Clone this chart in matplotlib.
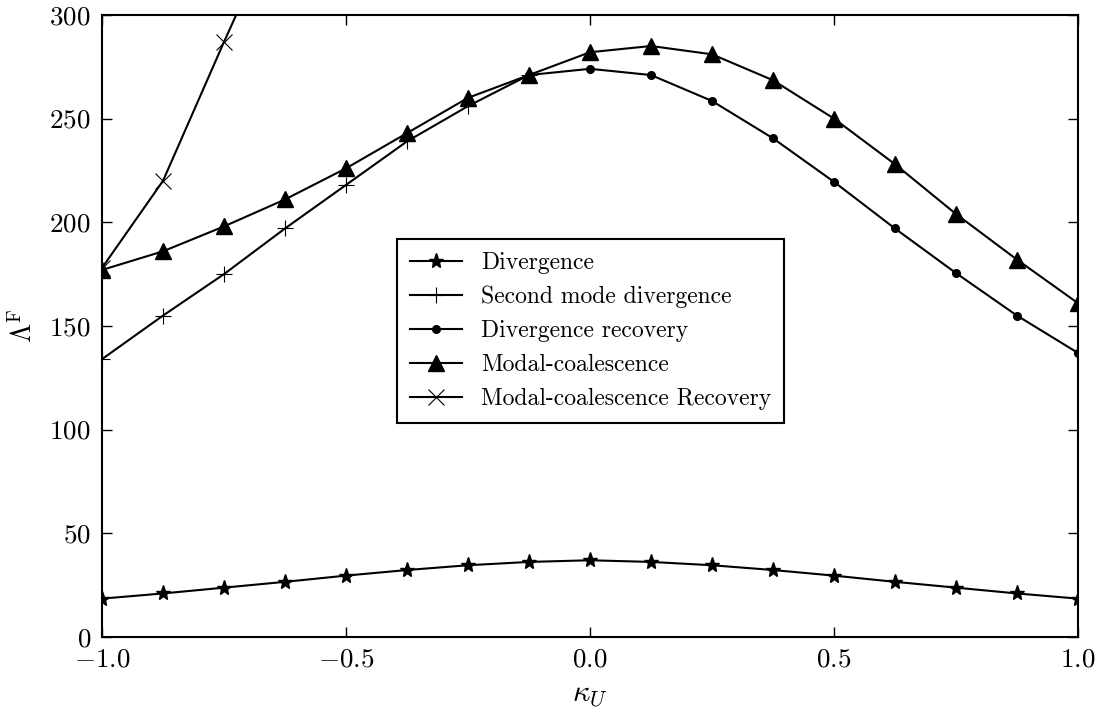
import numpy as np
import matplotlib
matplotlib.use("Agg")
import matplotlib.pyplot as plt

kappa = [-1.0, -0.875, -0.75, -0.625, -0.5, -0.375, -0.25, -0.125, 0.0,
         0.125, 0.25, 0.375, 0.5, 0.625, 0.75, 0.875, 1.0]

divergence = [18.5, 21.0, 23.8, 26.6, 29.6, 32.3, 34.6, 36.2, 37.0,
              36.2, 34.6, 32.3, 29.6, 26.6, 23.8, 21.0, 18.5]

second_x = [-1.0, -0.875, -0.75, -0.625, -0.5, -0.375, -0.25, -0.125]
second_mode = [134, 155, 175, 197, 218, 239, 256, 271]

recov_x = [-0.125, 0.0, 0.125, 0.25, 0.375, 0.5, 0.625, 0.75, 0.875, 1.0]
div_recovery = [271, 274, 271, 258.5, 240.5, 219.5, 197, 175.5, 155, 137]

modal = [177, 186, 198, 211, 226, 243, 260, 271, 282,
         285, 281, 268.5, 250, 228, 204, 182, 161]

mcr_x = [-1.0, -0.875, -0.75, -0.625]
mc_recovery = [178, 220, 287, 352]

labels = ["Divergence", "Second mode divergence", "Divergence recovery",
          "Modal-coalescence", "Modal-coalescence Recovery"]

plt.rcParams['font.family'] = ['cmr10', 'DejaVu Serif']
plt.rcParams['mathtext.fontset'] = 'cm'
plt.rcParams['axes.formatter.use_mathtext'] = True

fig = plt.figure(figsize=(11.09, 7.13), dpi=100)
ax = fig.add_axes([0.092, 0.1066, 0.880, 0.8725])

lw = 1.5
ax.plot(kappa, divergence, color='k', lw=lw, marker='*', markersize=11, label=labels[0])
ax.plot(second_x, second_mode, color='k', lw=lw, marker='+', markersize=12,
        markeredgewidth=0.8, label=labels[1])
ax.plot(recov_x, div_recovery, color='k', lw=lw, marker='o', markersize=5.5, label=labels[2])
ax.plot(kappa, modal, color='k', lw=lw, marker='^', markersize=11, label=labels[3])
ax.plot(mcr_x, mc_recovery, color='k', lw=lw, marker='x', markersize=12,
        markeredgewidth=0.8, label=labels[4])

ax.set_xlim(-1.0, 1.0)
ax.set_ylim(0, 300)
ax.set_xticks([-1.0, -0.5, 0.0, 0.5, 1.0])
ax.set_yticks([0, 50, 100, 150, 200, 250, 300])
ax.tick_params(direction='in', top=True, right=True, length=7, width=1,
               labelsize=19.5, pad=8)
for s in ax.spines.values():
    s.set_linewidth(1.5)

ax.set_xlabel(r'$\kappa_U$', fontsize=22, labelpad=7)
ax.set_ylabel(r'$\Lambda^{\mathrm{F}}$', fontsize=20, labelpad=8)

leg = ax.legend(loc='center', bbox_to_anchor=(0.501, 0.492), fontsize=17,
                fancybox=False, edgecolor='k', framealpha=1, handlelength=2.2,
                borderpad=0.55, labelspacing=0.5)
leg.get_frame().set_linewidth(1.5)

fig.savefig('out.png', dpi=100)
